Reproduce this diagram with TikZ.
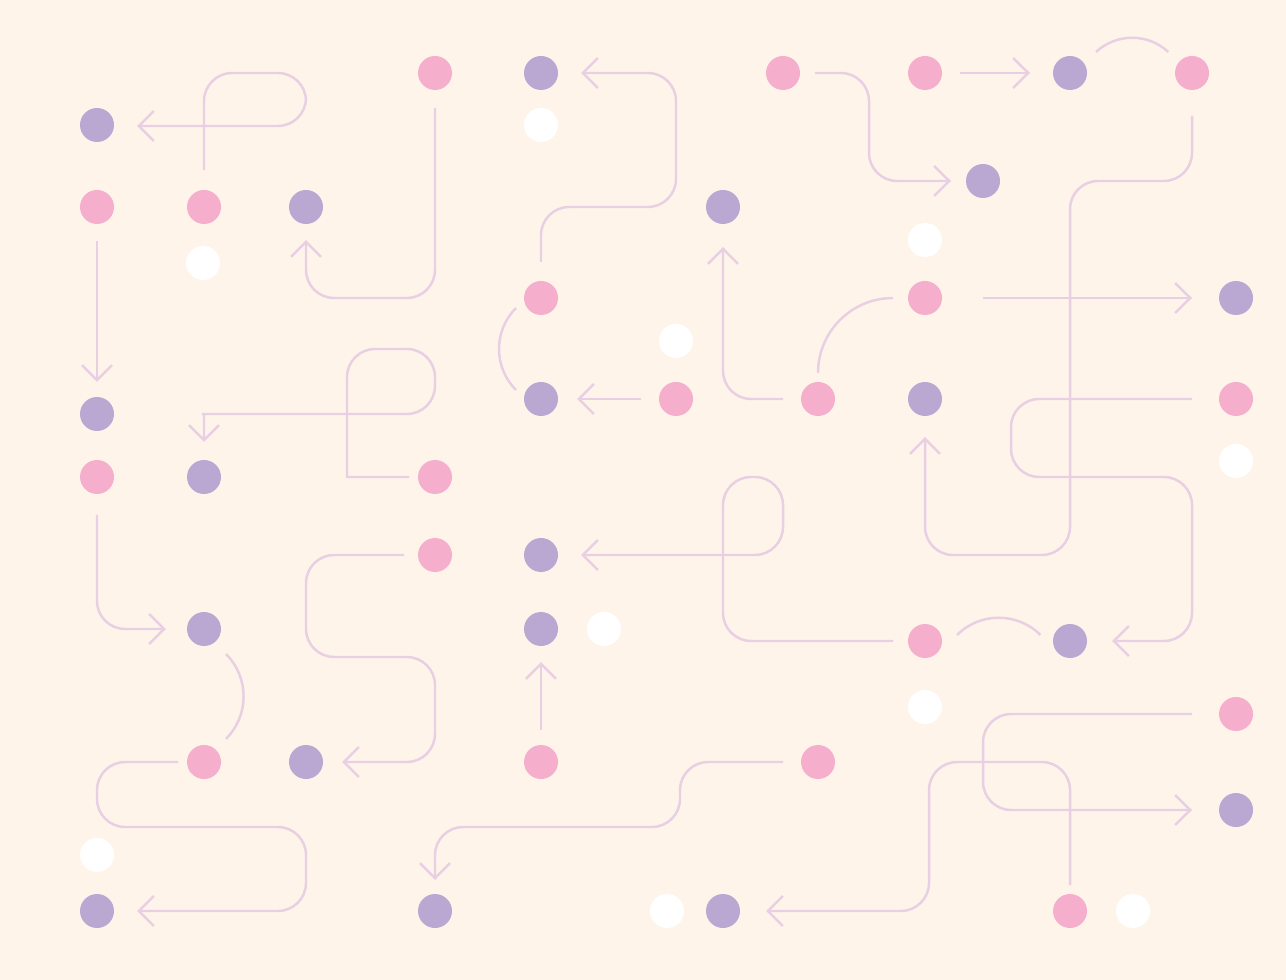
\documentclass[tikz,border=0pt]{standalone}
\usetikzlibrary{arrows.meta}
\definecolor{bgcream}{HTML}{FEF4EA}
\definecolor{dotpink}{HTML}{F5AFCD}
\definecolor{dotpurple}{HTML}{BAA8D2}
\definecolor{linelav}{HTML}{E8CFE3}
\tikzset{
  wire/.style={draw=linelav, line width=0.7pt, rounded corners=8pt},
  tip/.style={-{Straight Barb[length=4.3pt,width=8.5pt]}},
}
\begin{document}
\begin{tikzpicture}[x=0.01cm, y=-0.01cm]
  \fill[bgcream] (0,0) rectangle (1286,980);
  \useasboundingbox (0,0) rectangle (1286,980);
  % dots
  \foreach \x/\y in {435/73, 783/73, 925/73, 1192/73, 97/207, 204/207, 541/298, 925/298,
      676/399, 818/399, 1236/399, 97/477, 435/477, 435/555, 925/641, 1236/714,
      204/762, 541/762, 818/762, 1070/911}
    \fill[dotpink] (\x,\y) circle[radius=17];
  \foreach \x/\y in {541/73, 1070/73, 97/125, 983/181, 306/207, 723/207, 1236/298,
      541/399, 925/399, 97/414, 204/477, 541/555, 204/629, 541/629, 1070/641,
      306/762, 1236/810, 97/911, 435/911, 723/911}
    \fill[dotpurple] (\x,\y) circle[radius=17];
  \foreach \x/\y in {541/125, 925/240, 203/263, 676/341, 1236/461, 604/629, 925/707,
      97/855, 667/911, 1133/911}
    \fill[white] (\x,\y) circle[radius=17];
  % top rows
  \draw[wire, tip] (204,170) -- (204,73) -- (306,73) -- (306,126) -- (137,126);
  \draw[wire, tip] (435,108) -- (435,298) -- (306,298) -- (306,240);
  \draw[wire, tip] (541,262) -- (541,207) -- (676,207) -- (676,73) -- (581,73);
  \draw[wire, tip] (815,73) -- (869,73) -- (869,181) -- (951,181);
  \draw[wire, tip] (960,73) -- (1030,73);
  \draw[wire] (1096,52) arc[start angle=-133, end angle=-47, radius=53];
  \draw[wire, tip] (1192,116) -- (1192,181) -- (1070,181) -- (1070,555) -- (925,555) -- (925,437);
  \draw[wire, tip] (983,298) -- (1192,298);
  \draw[wire] (893,298) arc[start angle=-90, end angle=-180, radius=75];
  \draw[wire, tip] (783,399) -- (723,399) -- (723,247);
  \draw[wire, tip] (641,399) -- (577,399);
  \draw[wire] (516,308) arc[start angle=225, end angle=135, radius=58];
  % middle rows
  \draw[wire, tip] (1192,399) -- (1011,399) -- (1011,477) -- (1192,477) -- (1192,641) -- (1112,641);
  \draw[wire] (957,635) arc[start angle=-135, end angle=-45, radius=59];
  \draw[wire, tip] (893,641) -- (723,641) -- (723,477) -- (783,477) -- (783,555) -- (581,555);
  \draw[wire, tip, sharp corners] (409,477) -- (347,477) -- (347,420) [rounded corners=8pt]
    -- (347,349) -- (435,349) -- (435,414) -- (230,414) [sharp corners] -- (204,414) -- (204,442);
  \draw[wire, tip] (97,241) -- (97,382);
  \draw[wire, tip] (97,515) -- (97,629) -- (166,629);
  \draw[wire] (226,654) arc[start angle=-45, end angle=45, radius=60];
  % bottom rows
  \draw[wire, tip] (404,555) -- (306,555) -- (306,657) -- (435,657) -- (435,762) -- (342,762);
  \draw[wire, tip] (541,730) -- (541,662);
  \draw[wire, tip] (178,762) -- (97,762) -- (97,827) -- (306,827) -- (306,911) -- (137,911);
  \draw[wire, tip] (783,762) -- (680,762) -- (680,827) -- (435,827) -- (435,880);
  \draw[wire, tip] (1070,885) -- (1070,762) -- (929,762) -- (929,911) -- (766,911);
  \draw[wire, tip] (1192,714) -- (983,714) -- (983,810) -- (1192,810);
\end{tikzpicture}
\end{document}
